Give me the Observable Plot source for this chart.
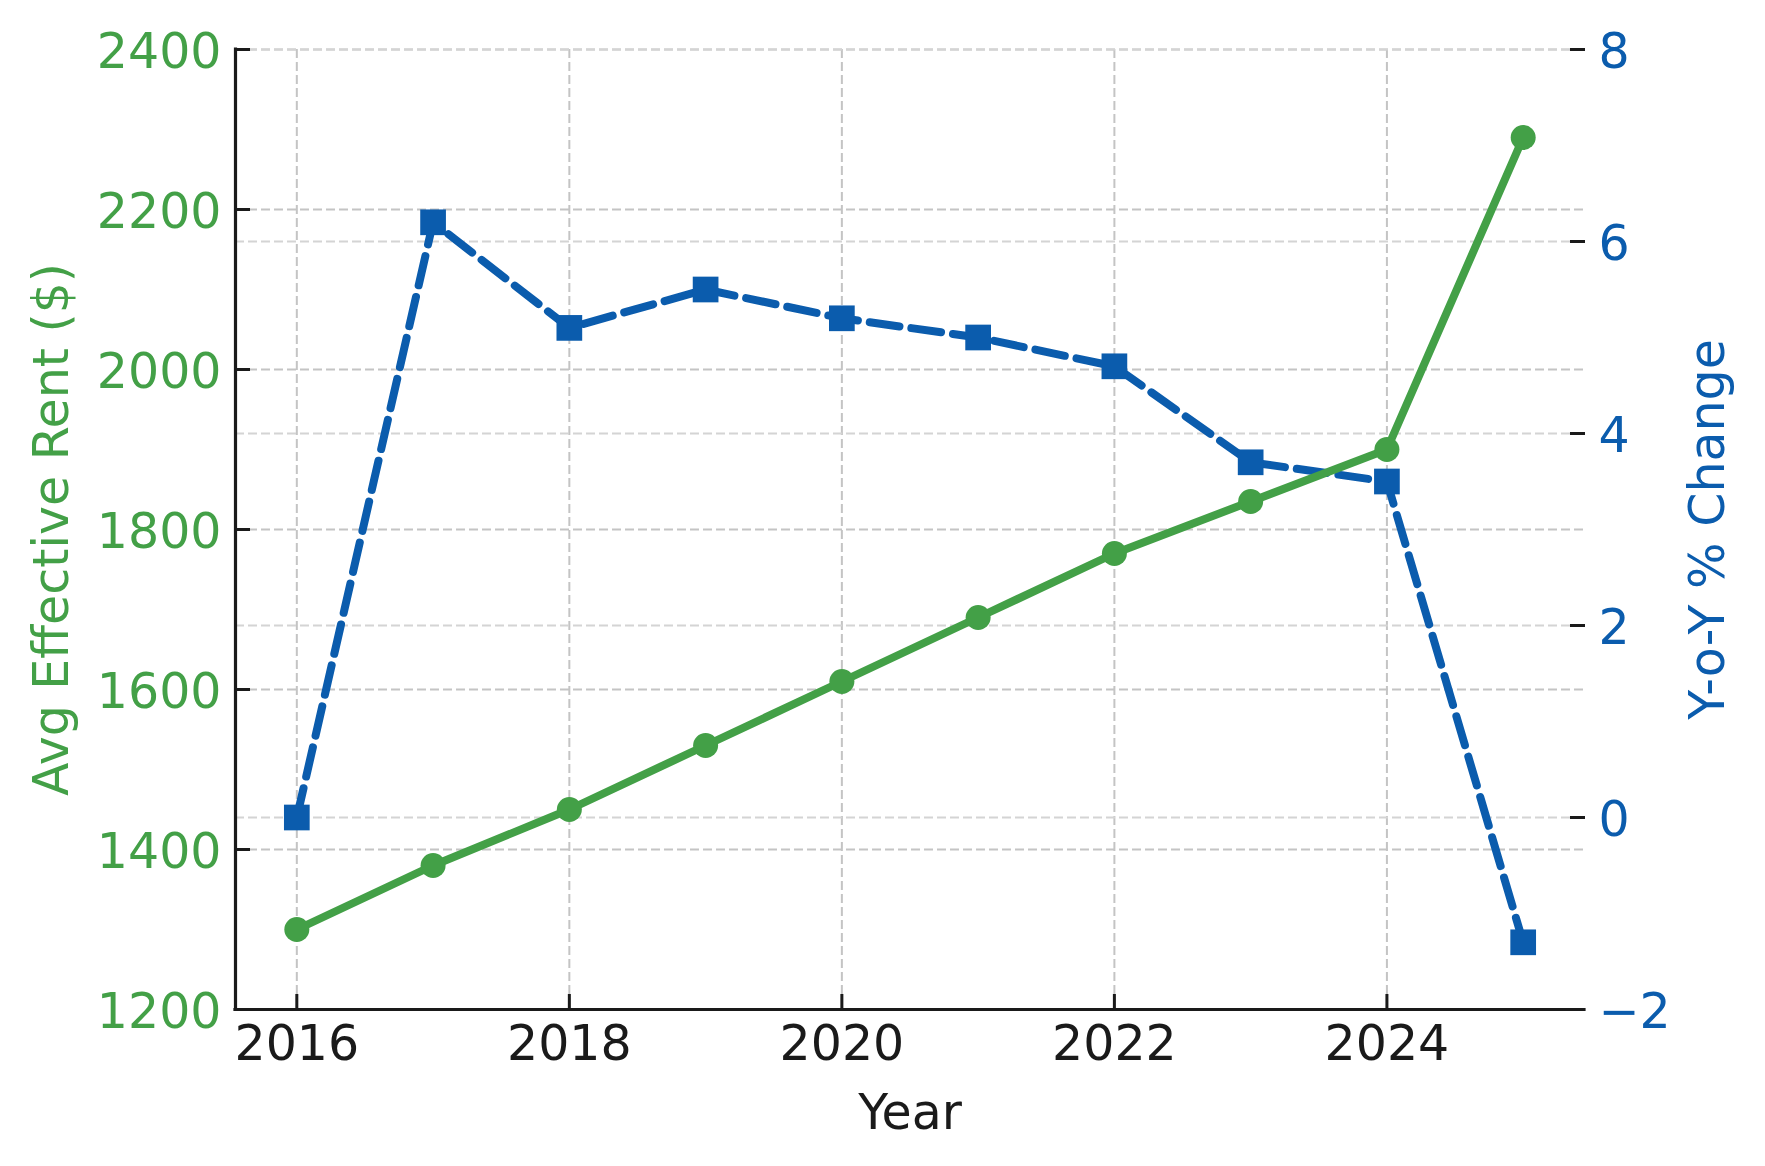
<!DOCTYPE html>
<html>
<head>
<meta charset="utf-8">
<script src="https://cdn.jsdelivr.net/npm/d3@7"></script>
<script src="https://cdn.jsdelivr.net/npm/@observablehq/plot@0.6"></script>
<style>
  html, body { margin: 0; padding: 0; background: #ffffff; }
  #chart svg { display: block; }
</style>
</head>
<body>
<div id="chart"></div>
<script>
// ---- data ----
const years = [2016, 2017, 2018, 2019, 2020, 2021, 2022, 2023, 2024, 2025];
const rent = [1300, 1380, 1450, 1530, 1610, 1690, 1770, 1835, 1900, 2290];
const yoy = [0, 6.2, 5.1, 5.5, 5.2, 5.0, 4.7, 3.7, 3.5, -1.3];

const xTicks = [2016, 2018, 2020, 2022, 2024];
const rentTicks = [1200, 1400, 1600, 1800, 2000, 2200, 2400];
const yoyTicks = [-2, 0, 2, 4, 6, 8];

const xDomain = [2015.55, 2025.45];
const rentDomain = [1200, 2400];
const yoyDomain = [-2, 8];

const xLabel = "Year";
const leftLabel = "Avg Effective Rent ($)";
const rightLabel = "Y-o-Y % Change";

// ---- styles ----
const GREEN = "#43a047";
const BLUE = "#0b5cad";
const INK = "#1a1a1a";
const FS = 49;

// map the right-hand (Y-o-Y) scale onto the left-hand (rent) scale
const toRent = d3.scaleLinear(yoyDomain, rentDomain);
const fmt = d3.format("d");

const table = years.map((year, i) => ({year, rent: rent[i], yoy: yoy[i], yoyR: toRent(yoy[i])}));

const gridStyle = {stroke: "#c4c4c4", strokeOpacity: 1, strokeWidth: 2, strokeDasharray: "9,4"};
const gridStyle2 = {stroke: "#d4d4d4", strokeOpacity: 1, strokeWidth: 2, strokeDasharray: "9,4"};

const chart = Plot.plot({
  width: 1765,
  height: 1166,
  marginLeft: 235,
  marginRight: 181,
  marginTop: 49,
  marginBottom: 157,
  x: {domain: xDomain, axis: null},
  y: {domain: rentDomain, axis: null},
  style: {fontFamily: "DejaVu Sans", fontSize: FS + "px", background: "#ffffff", color: INK},
  marks: [
    // grids
    Plot.gridX(xTicks, gridStyle),
    Plot.gridY(rentTicks, gridStyle),
    Plot.gridY(yoyTicks.map(toRent), gridStyle2),

    // Y-o-Y series (right axis)
    Plot.line(table, {x: "year", y: "yoyR", stroke: BLUE, strokeWidth: 8, strokeDasharray: "30,12"}),
    Plot.dot(table, {x: "year", y: "yoyR", symbol: "square", r: 14.5, fill: BLUE, stroke: null}),

    // Rent series (left axis)
    Plot.line(table, {x: "year", y: "rent", stroke: GREEN, strokeWidth: 8}),
    Plot.dot(table, {x: "year", y: "rent", r: 12.5, fill: GREEN, stroke: null}),

    // spines
    Plot.ruleX([xDomain[0]], {stroke: INK, strokeWidth: 3.2, strokeLinecap: "square"}),
    Plot.ruleY([rentDomain[0]], {stroke: INK, strokeWidth: 3.2, strokeLinecap: "square"}),

    // inward ticks
    Plot.axisX(xTicks, {anchor: "bottom", tickSize: 15, dy: -15, tickFormat: () => "", color: INK, strokeWidth: 3, label: null}),
    Plot.axisY(rentTicks, {anchor: "left", tickSize: 15, dx: 15, tickFormat: () => "", color: INK, strokeWidth: 3, label: null}),
    Plot.axisY(yoyTicks.map(toRent), {anchor: "right", tickSize: 15, dx: -15, tickFormat: () => "", color: INK, strokeWidth: 3, label: null}),

    // tick labels
    Plot.axisX(xTicks, {anchor: "bottom", tickSize: 0, tickPadding: 16, tickFormat: fmt, color: INK, fontSize: FS, label: null}),
    Plot.axisY(rentTicks, {anchor: "left", tickSize: 0, tickPadding: 14, tickFormat: fmt, color: GREEN, fontSize: FS, dy: 3, label: null}),
    Plot.axisY(yoyTicks.map(toRent), {anchor: "right", tickSize: 0, tickPadding: 14, tickFormat: d => fmt(toRent.invert(d)), color: BLUE, fontSize: FS, dy: 3, label: null}),

    // axis titles
    Plot.text([xLabel], {text: d => d, frameAnchor: "bottom", dy: 119, fill: INK, fontSize: FS, textAnchor: "middle"}),
    Plot.text([leftLabel], {text: d => d, frameAnchor: "left", rotate: -90, dx: -183, fill: GREEN, fontSize: FS, textAnchor: "middle"}),
    Plot.text([rightLabel], {text: d => d, frameAnchor: "right", rotate: -90, dx: 124, fill: BLUE, fontSize: FS, textAnchor: "middle"})
  ]
});

document.getElementById("chart").append(chart);
</script>
</body>
</html>
